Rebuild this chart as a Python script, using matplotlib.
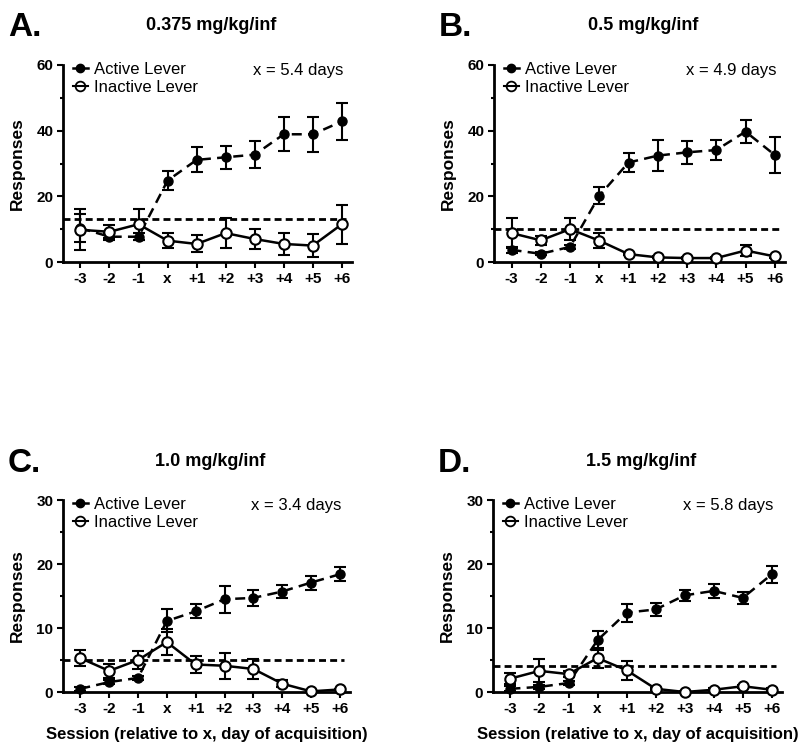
import matplotlib
matplotlib.use("Agg")
import matplotlib.pyplot as plt
from matplotlib.lines import Line2D
import numpy as np

plt.rcParams['font.family'] = ['Liberation Sans', 'DejaVu Sans']

sessions = ['-3', '-2', '-1', 'x', '+1', '+2', '+3', '+4', '+5', '+6']

panel_letters = ['A.', 'B.', 'C.', 'D.']
doses = ['0.375 mg/kg/inf', '0.5 mg/kg/inf', '1.0 mg/kg/inf', '1.5 mg/kg/inf']
acq_days = ['x = 5.4 days', 'x = 4.9 days', 'x = 3.4 days', 'x = 5.8 days']
thresholds = [13.1, 10.0, 5.0, 4.0]
y_max = [60, 60, 30, 30]

active_a = [10.3, 7.7, 7.7, 24.8, 31.1, 31.9, 32.7, 38.9, 38.9, 42.8]
active_a_err = [4.2, 1.0, 1.0, 3.0, 3.8, 3.5, 4.2, 5.2, 5.3, 5.5]
inactive_a = [9.8, 9.2, 11.5, 6.5, 5.5, 8.8, 7.0, 5.5, 5.0, 11.5]
inactive_a_err = [6.2, 2.0, 4.7, 2.2, 2.6, 4.6, 2.9, 3.3, 3.5, 5.9]

active_b = [3.7, 2.5, 4.6, 20.2, 30.3, 32.4, 33.4, 34.1, 39.7, 32.6]
active_b_err = [1.0, 0.5, 0.7, 2.6, 2.9, 4.7, 3.5, 3.0, 3.5, 5.4]
inactive_b = [8.8, 6.6, 10.0, 6.5, 2.4, 1.4, 1.2, 1.2, 3.5, 1.7]
inactive_b_err = [4.6, 1.4, 3.3, 2.2, 0.3, 0.3, 0.2, 0.2, 1.6, 0.5]

active_c = [0.5, 1.55, 2.2, 11.1, 12.6, 14.5, 14.7, 15.7, 17.1, 18.4]
active_c_err = [0.3, 0.3, 0.3, 1.8, 1.1, 2.1, 1.2, 1.0, 1.1, 1.1]
inactive_c = [5.3, 3.3, 5.0, 7.8, 4.3, 4.1, 3.6, 1.3, 0.1, 0.4]
inactive_c_err = [1.2, 1.1, 1.4, 2.0, 1.3, 2.0, 1.6, 0.5, 0.1, 0.1]

active_d = [0.5, 0.8, 1.4, 8.1, 12.4, 12.9, 15.1, 15.8, 14.7, 18.4]
active_d_err = [0.4, 0.3, 0.3, 1.5, 1.4, 1.0, 0.9, 1.1, 1.0, 1.3]
inactive_d = [2.1, 3.3, 2.8, 5.3, 3.4, 0.5, 0.0, 0.35, 0.9, 0.35]
inactive_d_err = [0.9, 1.8, 0.5, 1.5, 1.5, 0.2, 0.1, 0.2, 0.2, 0.2]

actives = [active_a, active_b, active_c, active_d]
active_errs = [active_a_err, active_b_err, active_c_err, active_d_err]
inactives = [inactive_a, inactive_b, inactive_c, inactive_d]
inactive_errs = [inactive_a_err, inactive_b_err, inactive_c_err, inactive_d_err]

W, H = 800, 749
fig = plt.figure(figsize=(W / 100, H / 100), dpi=100)


def fx(px):
    return px / W


def fy(py):
    return 1 - py / H


# axes boxes in pixels: left, right, top, bottom
boxes = [(63, 352, 65, 262), (494, 785, 65, 262),
         (63, 350, 500, 692), (493, 782, 500, 692)]
title_y = [25, 25, 461, 461]

x = np.arange(len(sessions))
for i in range(4):
    l, r, t, b = boxes[i]
    ax = fig.add_axes([fx(l), fy(b), fx(r) - fx(l), (b - t) / H])
    ax.errorbar(x, actives[i], yerr=active_errs[i], color='black', lw=1.8,
                ls=(0, (4, 2.5)), marker='o', ms=6.5, mfc='black', mec='black',
                elinewidth=1.5, capsize=4, capthick=1.5, clip_on=False, zorder=3)
    ax.errorbar(x, inactives[i], yerr=inactive_errs[i], color='black', lw=1.8,
                ls='-', marker='o', ms=7.5, mfc='white', mec='black', mew=1.5,
                elinewidth=1.5, capsize=4, capthick=1.5, clip_on=False, zorder=4)
    ax.axhline(thresholds[i], color='black', lw=2, ls=(0, (2.5, 1.5)),
               xmin=0.0, xmax=0.98, zorder=2)

    ax.set_xlim(-0.6, 9.35)
    ax.set_ylim(0, y_max[i])
    ax.set_xticks(x)
    ax.set_xticklabels(sessions, fontweight='bold', fontsize=11)
    step = y_max[i] / 3
    ax.set_yticks(np.arange(0, y_max[i] + 1, step))
    ax.set_yticks(np.arange(step / 2, y_max[i], step), minor=True)
    ax.set_yticklabels([str(int(v)) for v in np.arange(0, y_max[i] + 1, step)],
                       fontweight='bold', fontsize=11)
    ax.tick_params(axis='both', which='major', direction='out', length=4,
                   width=1.5, pad=3)
    ax.tick_params(axis='y', which='minor', direction='out', length=2.5,
                   width=1.5)
    ax.spines['top'].set_visible(False)
    ax.spines['right'].set_visible(False)
    ax.spines['left'].set_linewidth(2)
    ax.spines['bottom'].set_linewidth(2)
    ax.set_ylabel('Responses', fontweight='bold', fontsize=12.5, labelpad=8)
    if i >= 2:
        ax.set_xlabel('Session (relative to x, day of acquisition)',
                      fontweight='bold', fontsize=12, labelpad=8)

    handles = [Line2D([], [], color='black', lw=1.8, marker='o', ms=6,
                      mfc='black'),
               Line2D([], [], color='black', lw=1.5, marker='o', ms=7,
                      mfc='none', mew=1.3)]
    ax.legend(handles, ['Active Lever', 'Inactive Lever'], loc='upper left',
              bbox_to_anchor=(0.005, 1.06), frameon=False, fontsize=12,
              handlelength=0.9, handletextpad=0.4, labelspacing=0.2,
              borderpad=0)
    ax.text(0.97, 0.97, acq_days[i], transform=ax.transAxes, ha='right',
            va='center', fontsize=12)

    fig.text(fx(l - 55), fy(title_y[i] + 2), panel_letters[i], fontsize=24,
             fontweight='bold', ha='left', va='center')
    fig.text(fx((l + r) / 2 + 4), fy(title_y[i]), doses[i], fontsize=13,
             fontweight='bold', ha='center', va='center')

fig.savefig('out.png', dpi=100)
